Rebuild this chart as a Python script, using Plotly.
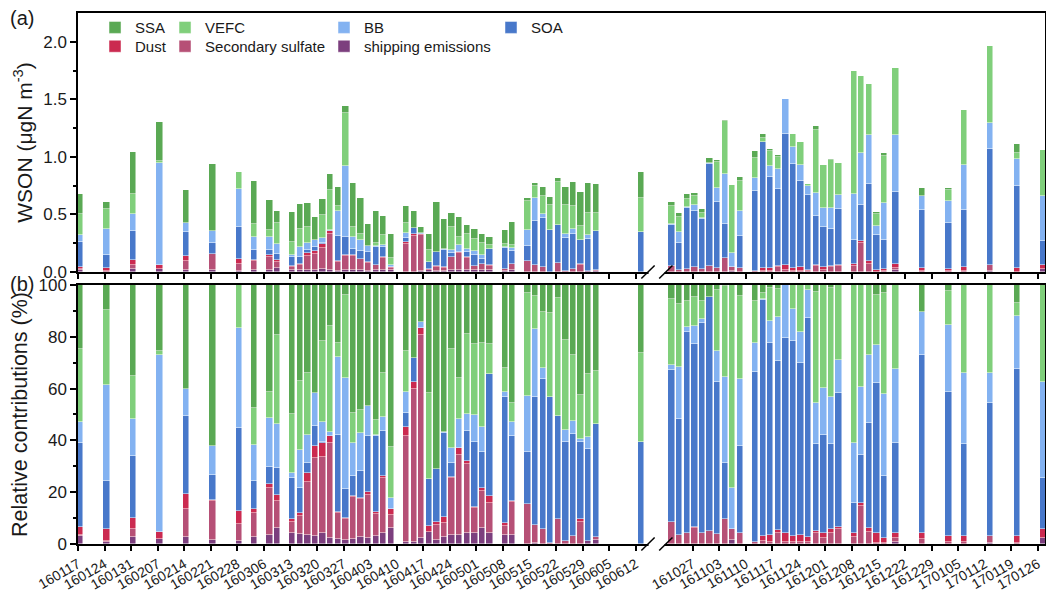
import datetime as dt
import plotly.graph_objects as go

# ---------------------------------------------------------------- data
sample_dates = [
    "160117", "160124", "160131", "160207", "160214", "160221", "160228",
    "160303", "160307", "160309",
    "160313", "160315", "160317", "160319", "160321", "160323", "160325",
    "160327", "160329", "160331", "160402", "160404", "160406", "160408",
    "160412", "160414", "160416", "160418", "160420", "160422", "160424",
    "160426", "160428", "160430", "160502", "160504",
    "160508", "160510",
    "160514", "160516", "160518", "160520", "160522", "160524", "160526",
    "160528", "160530", "160601",
    "160613",
    "161021", "161023", "161025", "161027", "161029", "161031", "161102",
    "161104", "161106", "161108",
    "161112", "161114", "161116", "161118", "161120", "161122", "161124",
    "161126", "161128", "161130", "161202", "161204",
    "161208", "161210", "161212", "161214", "161216",
    "161219", "161226", "170102", "170106", "170113", "170120", "170127",
]

# total WSON (ugN m-3)
wson_total = [
    0.675, 0.606, 1.043, 1.299, 0.710, 0.936, 0.867,
    0.788, 0.626, 0.530,
    0.525, 0.591, 0.600, 0.481, 0.632, 0.850, 0.736,
    1.438, 0.777, 0.646, 0.417, 0.530, 0.487, 0.328,
    0.577, 0.530, 0.394, 0.330, 0.606, 0.458, 0.516,
    0.481, 0.406, 0.371, 0.328, 0.307,
    0.365, 0.438,
    0.640, 0.777, 0.736, 0.649, 0.820, 0.742, 0.786,
    0.696, 0.777, 0.762,
    0.872,
    0.606, 0.516, 0.678, 0.690, 0.545, 0.988, 0.974,
    1.322, 0.754, 0.829,
    1.052, 1.197, 1.067, 1.017, 1.507, 1.200, 1.133,
    0.765, 1.270, 0.930, 0.980, 0.945,
    1.742, 1.704, 1.632, 0.522, 1.038,
    1.771, 0.733, 0.728, 1.409, 1.960, 1.113, 1.061,
]

# relative contributions of each source (%)
pct_shipping = [
    3.2, 0.6, 2.6, 1.8, 2.8, 1.5, 1.0,
    2.6, 3.5, 6.0,
    4.1, 3.7, 3.5, 3.0, 4.1, 2.2, 1.8,
    1.5, 1.8, 2.6, 2.2, 3.1, 4.2, 6.0,
    0.6, 0.6, 2.4, 4.8, 1.5, 2.6, 3.5,
    3.5, 4.1, 4.4, 6.0, 4.4,
    3.5, 3.5,
    0.0, 0.5, 0.0, 0.0, 0.0, 0.0, 0.0,
    0.0, 1.0, 1.5,
    0.0,
    0.0, 0.0, 0.0, 0.0, 0.0, 0.0, 0.0,
    0.0, 1.5, 0.0,
    0.0, 0.0, 0.0, 0.0, 0.0, 0.0, 0.0,
    0.0, 0.0, 0.0, 0.0, 0.0,
    0.0, 0.0, 0.0, 0.0, 0.0,
    0.9, 0.0, 0.0, 0.0, 0.5, 0.0, 2.2,
]
pct_sulfate = [
    0.4, 0.6, 3.1, 0.0, 10.6, 15.1, 6.7,
    9.2, 18.0, 10.6,
    4.3, 7.2, 20.3, 30.3, 29.6, 36.7, 10.0,
    8.0, 16.2, 14.6, 16.7, 8.5, 21.2, 5.1,
    41.1, 59.1, 78.3, 0.0, 5.8, 5.4, 21.9,
    30.9, 26.7, 9.6, 14.5, 11.6,
    3.4, 12.8,
    15.3, 6.8, 5.7, 0.3, 9.5, 1.2, 3.2,
    8.5, 0.0, 1.3,
    0.0,
    8.4, 3.5, 4.1, 6.0, 4.1, 5.1, 3.7,
    9.5, 4.2, 4.1,
    0.9, 1.0, 0.9, 4.4, 0.9, 0.9, 0.9,
    0.9, 4.1, 2.2, 4.4, 5.7,
    2.8, 14.8, 4.5, 0.5, 0.5,
    1.3, 1.8, 0.9, 0.9, 2.6, 0.3, 0.0,
]
pct_dust = [
    2.8, 4.5, 4.3, 2.8, 6.0, 0.4, 4.9,
    1.6, 1.5, 2.3,
    1.4, 0.9, 3.5, 4.7, 5.3, 2.9, 0.7,
    0.7, 0.7, 0.4, 1.0, 0.6, 1.0, 2.3,
    3.6, 2.7, 2.8, 2.3, 1.3, 2.3, 0.6,
    2.5, 1.2, 0.3, 1.0, 2.5,
    1.1, 0.3,
    0.0, 0.0, 0.0, 0.0, 0.0, 0.0, 0.0,
    1.3, 0.0, 0.0,
    0.0,
    0.0, 0.0, 0.0, 0.4, 0.0, 0.0, 0.0,
    0.0, 0.0, 0.0,
    0.0, 2.1, 2.6, 1.0, 3.2, 2.2, 2.6,
    1.7, 0.9, 2.2, 1.3, 1.0,
    1.3, 1.2, 1.5, 3.6, 1.7,
    1.9, 2.6, 2.2, 2.2, 0.0, 2.8, 3.5,
]
pct_soa = [
    32.5, 18.5, 24.1, 0.0, 30.1, 9.5, 32.3,
    10.8, 6.9, 10.3,
    15.8, 9.7, 4.0, 7.7, 0.5, 0.0, 29.6,
    10.9, 7.6, 10.7, 21.8, 29.5, 17.4, 0.0,
    5.4, 9.5, 0.0, 18.0, 20.2, 32.4, 5.4,
    0.0, 11.8, 25.0, 14.1, 47.0,
    48.6, 25.1,
    20.3, 49.6, 57.9, 56.3, 39.9, 38.1, 39.1,
    29.7, 35.6, 43.4,
    39.5,
    58.8, 44.6, 77.9, 70.7, 81.1, 90.1, 59.0,
    21.9, 0.0, 33.9,
    65.6, 91.1, 74.0, 65.4, 75.3, 75.4, 66.3,
    84.5, 33.5, 37.7, 32.8, 51.5,
    11.9, 18.4, 40.8, 57.9, 24.2,
    35.0, 68.6, 55.7, 35.4, 51.5, 64.3, 19.9,
]
pct_bb = [
    8.3, 37.1, 14.0, 68.2, 10.3, 11.3, 38.6,
    14.2, 18.6, 17.0,
    1.9, 14.7, 10.7, 12.5, 7.5, 1.3, 30.2,
    42.9, 12.8, 14.4, 11.6, 0.4, 5.1, 4.2,
    8.1, 0.0, 2.1, 0.0, 0.0, 0.7, 5.8,
    11.2, 6.3, 10.5, 9.4, 0.0,
    2.0, 5.5,
    21.7, 26.0, 4.5, 0.0, 0.0, 4.7, 5.2,
    0.9, 4.8, 0.0,
    0.0,
    1.9, 20.1, 1.7, 7.1, 1.5, 0.3, 11.8,
    33.2, 15.8, 25.6,
    11.2, 0.4, 8.6, 17.0, 20.6, 12.1, 11.9,
    11.0, 15.8, 18.0, 18.4, 12.8,
    22.9, 26.3, 26.2, 14.8, 31.4,
    28.3, 16.7, 25.8, 27.7, 11.3, 20.6, 36.8,
]
pct_vefc = [
    28.0, 28.9, 16.6, 1.7, 0.0, 0.0, 16.5,
    14.0, 10.1, 34.5,
    22.6, 26.7, 23.9, 0.0, 31.4, 41.1, 5.4,
    32.1, 11.4, 9.0, 0.0, 5.8, 17.0, 19.7,
    15.7, 0.0, 0.0, 33.1, 0.0, 0.0, 38.0,
    15.9, 30.9, 27.3, 32.5, 11.6,
    9.2, 7.1,
    39.5, 12.9, 21.6, 32.7, 45.5, 34.8, 25.5,
    17.1, 24.1, 20.6,
    34.1,
    25.5, 24.5, 10.1, 11.3, 7.1, 0.0, 23.6,
    34.9, 78.5, 32.2,
    16.1, 2.4, 12.6, 10.5, 0.0, 9.4, 18.3,
    1.9, 43.1, 39.9, 42.1, 29.0,
    61.1, 39.3, 27.0, 19.3, 39.2,
    32.6, 0.0, 13.2, 33.8, 34.1, 4.9, 37.6,
]
pct_ssa = [
    24.8, 9.8, 35.3, 25.5, 40.2, 62.2, 0.0,
    47.6, 41.4, 19.3,
    49.9, 37.1, 34.1, 41.8, 21.6, 15.8, 22.3,
    3.9, 49.5, 48.3, 46.7, 52.1, 34.1, 62.7,
    25.5, 28.1, 14.4, 41.8, 71.2, 56.6, 24.8,
    36.0, 19.0, 22.9, 22.5, 22.9,
    32.2, 45.7,
    3.2, 4.2, 10.3, 10.7, 5.1, 21.2, 27.0,
    42.5, 34.5, 33.2,
    26.4,
    5.4, 7.3, 6.2, 4.5, 6.2, 4.5, 1.9,
    0.5, 0.0, 4.2,
    6.2, 3.0, 1.3, 1.7, 0.0, 0.0, 0.0,
    0.0, 2.6, 0.0, 1.0, 0.0,
    0.0, 0.0, 0.0, 3.9, 3.0,
    0.0, 10.3, 2.2, 0.0, 0.0, 7.1, 0.0,
]

tick_dates = [
    "160117", "160124", "160131", "160207", "160214", "160221", "160228",
    "160306", "160313", "160320", "160327", "160403", "160410", "160417",
    "160424", "160501", "160508", "160515", "160522", "160529", "160605",
    "160612",
    "161027", "161103", "161110", "161117", "161124", "161201", "161208",
    "161215", "161222", "161229", "170105", "170112", "170119", "170126",
]

# ---------------------------------------------------------------- axis helpers
ORIGIN = dt.date(2016, 1, 17)
SUMMER_LAST = dt.date(2016, 6, 12)
AUTUMN_FIRST = dt.date(2016, 10, 27)
GAP_KEPT = 15  # days of empty axis left between the two campaigns
SHIFT = (AUTUMN_FIRST - SUMMER_LAST).days - GAP_KEPT


def axis_day(code):
    d = dt.datetime.strptime(code, "%y%m%d").date()
    n = (d - ORIGIN).days
    if d > SUMMER_LAST + dt.timedelta(days=30):
        n -= SHIFT
    return n


xs = [axis_day(s) for s in sample_dates]
tick_x = [axis_day(s) for s in tick_dates]

# legend grid: column x (paper) and row y (paper) for each source
COL_X = [0.0176, 0.0900, 0.2544, 0.4271]
ROW_Y = [1.0035, 0.968]

# stacked from the bottom up: name, values, colour, legend id, (col, row)
sources = [
    ("shipping emissions", pct_shipping, "#7c3f7e", "legend7", (2, 1)),
    ("Secondary sulfate", pct_sulfate, "#b65076", "legend6", (1, 1)),
    ("Dust", pct_dust, "#cb2a50", "legend5", (0, 1)),
    ("SOA", pct_soa, "#4878ca", "legend4", (3, 0)),
    ("BB", pct_bb, "#83b2f1", "legend3", (2, 0)),
    ("VEFC", pct_vefc, "#80cf7b", "legend2", (1, 0)),
    ("SSA", pct_ssa, "#5aa954", "legend", (0, 0)),
]

BAR_W = 1.66
BAR_OFF = -0.35
edge = dict(color="rgba(255,255,255,0.6)", width=0.8)

fig = go.Figure()
for name, pct, color, leg, _ in sources:
    absolute = [t * p / 100.0 for t, p in zip(wson_total, pct)]
    fig.add_bar(
        x=xs, y=absolute, name=name, width=BAR_W, offset=BAR_OFF,
        marker=dict(color=color, line=edge),
        xaxis="x", yaxis="y", legend=leg,
    )
    fig.add_bar(
        x=xs, y=pct, name=name, width=BAR_W, offset=BAR_OFF,
        marker=dict(color=color, line=edge),
        xaxis="x2", yaxis="y2", showlegend=False,
    )

FONT = "Arial, Liberation Sans, sans-serif"
INK = "#1a1a1a"
X_RANGE = [0, 254.9]
TOP_DOM = [0.5122, 1.0]
BOT_DOM = [0.0, 0.4878]

common_x = dict(
    range=X_RANGE, tickvals=tick_x, showline=True, linecolor="black",
    linewidth=1.5, mirror=True, ticks="outside", ticklen=5, tickwidth=1.5,
    tickcolor="black", showgrid=False, zeroline=False, automargin=False,
)
common_y = dict(
    showline=True, linecolor="black", linewidth=1.5, mirror=True,
    ticks="outside", ticklen=6, tickwidth=1.5, tickcolor="black",
    showgrid=False, zeroline=False, automargin=False,
    tickfont=dict(size=17, color=INK, family=FONT),
)

legend_style = dict(
    bgcolor="rgba(0,0,0,0)", borderwidth=0, font=dict(size=15, color=INK, family=FONT),
    orientation="v", xanchor="left", yanchor="top", traceorder="normal",
    itemwidth=30, itemclick=False, itemdoubleclick=False,
)
legends = {}
for _, _, _, leg, (c, r) in sources:
    legends[leg] = dict(legend_style, x=COL_X[c], y=ROW_Y[r])

fig.update_layout(
    width=1046, height=592,
    margin=dict(l=78, r=1, t=13, b=48),
    paper_bgcolor="white", plot_bgcolor="white",
    barmode="stack", bargap=0,
    font=dict(family=FONT, color=INK),
    xaxis=dict(common_x, anchor="y", showticklabels=False),
    yaxis=dict(
        common_y, domain=TOP_DOM, anchor="x", range=[0, 2.25],
        tickvals=[0, 0.5, 1.0, 1.5, 2.0], tickformat=".1f",
        minor=dict(tickvals=[0.25, 0.75, 1.25, 1.75], ticklen=3, tickwidth=1.5,
                   tickcolor="black", ticks="outside"),
        title=dict(text="WSON (\u03bcgN m<sup>-3</sup>)", standoff=5,
                   font=dict(size=21, color=INK, family=FONT)),
    ),
    xaxis2=dict(
        common_x, anchor="y2", matches="x", ticktext=tick_dates,
        tickangle=-30, tickfont=dict(size=14, color=INK, family=FONT),
    ),
    yaxis2=dict(
        common_y, domain=BOT_DOM, anchor="x2", range=[0, 100],
        tickvals=[0, 20, 40, 60, 80, 100],
        minor=dict(tickvals=[10, 30, 50, 70, 90], ticklen=3, tickwidth=1.5,
                   tickcolor="black", ticks="outside"),
        title=dict(text="Relative contributions (%)", standoff=5,
                   font=dict(size=21.5, color=INK, family=FONT)),
    ),
    showlegend=True,
    **legends,
)

# axis break marks on both panels
PX_H = 1.0 / 531.0
for y_axis in (TOP_DOM[0], BOT_DOM[0]):
    fig.add_shape(type="rect", xref="x", yref="paper", x0=150.4, x1=154.6,
                  y0=y_axis - 3 * PX_H, y1=y_axis + 3 * PX_H,
                  fillcolor="white", line=dict(width=0), layer="above")
    for xa, xb in ((148.5, 152.0), (153.2, 156.7)):
        fig.add_shape(type="line", xref="x", yref="paper",
                      x0=xa, x1=xb, y0=y_axis - 6.5 * PX_H, y1=y_axis + 6.5 * PX_H,
                      line=dict(color="black", width=1.5), layer="above")

# panel letters
for label, yy in (("(a)", 0.9906), ("(b)", 0.4896)):
    fig.add_annotation(text=label, xref="paper", yref="paper", x=-0.0580, y=yy,
                       xanchor="center", yanchor="middle", showarrow=False,
                       font=dict(size=20, color=INK, family=FONT))

fig.write_html("out.html")
